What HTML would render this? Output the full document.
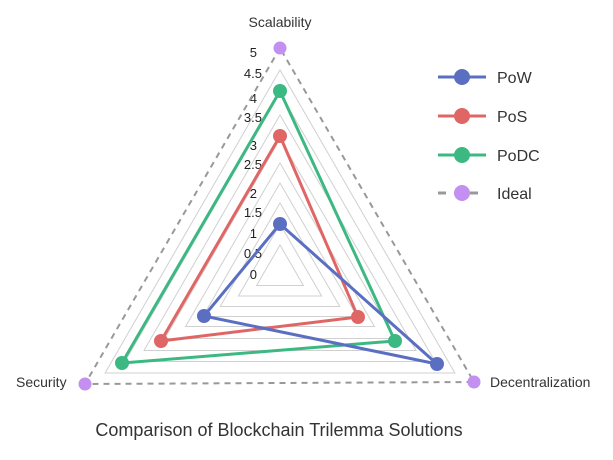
<!DOCTYPE html>
<html><head><meta charset="utf-8"><style>
html,body{margin:0;padding:0;background:#fff;}
svg{display:block;font-family:"Liberation Sans",sans-serif;}
</style></head><body>
<svg width="613" height="460" viewBox="0 0 613 460" xmlns="http://www.w3.org/2000/svg">
<g fill="none" stroke="#d0d0d0" stroke-width="1">
<polygon points="280,245 256.6,285.5 303.4,285.5"/>
<polygon points="280,224 238.4,296 321.6,296"/>
<polygon points="280,203 220.2,306.5 339.8,306.5"/>
<polygon points="280,183 202.9,316.5 357.1,316.5"/>
<polygon points="280,163 185.6,326.5 374.4,326.5"/>
<polygon points="280,139 164.8,338.5 395.2,338.5"/>
<polygon points="280,115 144,350.5 416,350.5"/>
<polygon points="280,93 125,361.5 435,361.5"/>
<polygon points="280,70 105.1,373 454.9,373"/>
</g>
<g font-size="13" fill="#222" text-anchor="end">
<text x="257" y="57">5</text>
<text x="262" y="78">4.5</text>
<text x="257" y="103">4</text>
<text x="262" y="122">3.5</text>
<text x="257" y="150">3</text>
<text x="262" y="169">2.5</text>
<text x="257" y="198">2</text>
<text x="262" y="217">1.5</text>
<text x="257" y="238">1</text>
<text x="262" y="258">0.5</text>
<text x="257" y="279">0</text>
</g>
<polygon points="280,48 85,384 474,382" fill="none" stroke="#999" stroke-width="2" stroke-dasharray="6,5"/>
<polygon points="280,91 122,363 395,341" fill="none" stroke="#3cb882" stroke-width="3"/>
<polygon points="280,136 161,341 358,317" fill="none" stroke="#e06666" stroke-width="3"/>
<polygon points="280,224 204,316 437,364" fill="none" stroke="#5b6fc2" stroke-width="3"/>
<g fill="#c38ff0"><circle cx="280" cy="48" r="6.5"/><circle cx="85" cy="384" r="6.5"/><circle cx="474" cy="382" r="6.5"/></g>
<g fill="#3cb882"><circle cx="280" cy="91" r="7"/><circle cx="122" cy="363" r="7"/><circle cx="395" cy="341" r="7"/></g>
<g fill="#e06666"><circle cx="280" cy="136" r="7"/><circle cx="161" cy="341" r="7"/><circle cx="358" cy="317" r="7"/></g>
<g fill="#5b6fc2"><circle cx="280" cy="224" r="7"/><circle cx="204" cy="316" r="7"/><circle cx="437" cy="364" r="7"/></g>
<g font-size="14" fill="#333">
<text x="280" y="27" text-anchor="middle">Scalability</text>
<text x="16" y="387">Security</text>
<text x="490" y="387">Decentralization</text>
</g>
<g stroke-width="3">
<line x1="438" y1="77" x2="486" y2="77" stroke="#5b6fc2"/><circle cx="462" cy="77" r="8" fill="#5b6fc2"/>
<line x1="438" y1="116" x2="486" y2="116" stroke="#e06666"/><circle cx="462" cy="116" r="8" fill="#e06666"/>
<line x1="438" y1="155" x2="486" y2="155" stroke="#3cb882"/><circle cx="462" cy="155" r="8" fill="#3cb882"/>
<line x1="438" y1="193" x2="486" y2="193" stroke="#999" stroke-dasharray="8,8"/><circle cx="462" cy="193" r="8" fill="#c38ff0"/>
</g>
<g font-size="16" fill="#333">
<text x="497" y="83">PoW</text>
<text x="497" y="122">PoS</text>
<text x="497" y="161">PoDC</text>
<text x="497" y="199">Ideal</text>
</g>
<text x="279" y="436" text-anchor="middle" font-size="18" fill="#333">Comparison of Blockchain Trilemma Solutions</text>
</svg>
</body></html>
